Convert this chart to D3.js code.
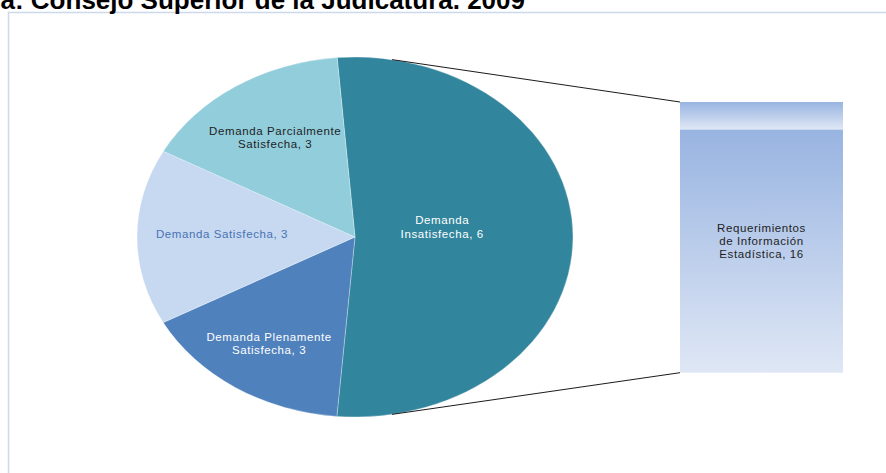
<!DOCTYPE html>
<html><head><meta charset="utf-8">
<script src="https://cdn.jsdelivr.net/npm/d3@7"></script>
<style>body{margin:0;background:#fff;overflow:hidden}</style>
</head><body><svg id="c" width="886" height="473"></svg>
<script>
// ---- data ----
const categories = ["Demanda Insatisfecha", "Demanda Plenamente Satisfecha", "Demanda Satisfecha", "Demanda Parcialmente Satisfecha"];
const labelValues = [6, 3, 3, 3];
const sliceShares = [10, 3, 3, 3];          // angular share of each slice as drawn
const barSegments = ["Requerimientos de Información Estadística", "Otros"];
const barValues = [16, 1.8];
const titleText = "Fuente: Sala Administrativa: Consejo Superior de la Judicatura. 2009";

// ---- styles ----
const sliceColors = ["#31859C", "#4F81BD", "#C6D9F1", "#92CDDC"];
const labelColors = ["#FFFFFF", "#FFFFFF", "#4A72B2", "#1E1E1E"];
const labelLines = {
  "Demanda Insatisfecha": ["Demanda", "Insatisfecha, " + labelValues[0]],
  "Demanda Plenamente Satisfecha": ["Demanda Plenamente", "Satisfecha, " + labelValues[1]],
  "Demanda Satisfecha": ["Demanda Satisfecha, " + labelValues[2]],
  "Demanda Parcialmente Satisfecha": ["Demanda Parcialmente", "Satisfecha, " + labelValues[3]]
};
const labelRadius = {
  "Demanda Insatisfecha": 0.40,
  "Demanda Plenamente Satisfecha": 0.72,
  "Demanda Satisfecha": 0.61,
  "Demanda Parcialmente Satisfecha": 0.67
};
const labelShift = {
  "Demanda Insatisfecha": -10,
  "Demanda Plenamente Satisfecha": -2,
  "Demanda Satisfecha": -3,
  "Demanda Parcialmente Satisfecha": 1.5
};

const svg = d3.select("#c");
const font = "'Liberation Sans', Arial, sans-serif";

// frame
svg.append("rect").attr("x", 8.5).attr("y", 12.5).attr("width", 900).attr("height", 500)
  .attr("fill", "none").attr("stroke", "#CCD8EC").attr("stroke-width", 1.5);

// title (cut at top, as in the original)
svg.append("text").attr("x", 525).attr("y", 9).attr("text-anchor", "end")
  .attr("font-family", font).attr("font-weight", "bold").attr("font-size", 26)
  .attr("fill", "#000").text(titleText);

// pie (ellipse)
const cx = 355, cy = 237, rx = 218, ry = 180;
const start = -4.7 * Math.PI / 180;
const pieData = d3.pie().sort(null).value(d => d.v).startAngle(start).endAngle(start + 2 * Math.PI)(sliceShares.map((v, i) => ({ v, i })));
const arc = d3.arc().innerRadius(0).outerRadius(rx);
const gPie = svg.append("g").attr("transform", `translate(${cx},${cy}) scale(1,${ry / rx})`);
gPie.selectAll("path").data(pieData).join("path")
  .attr("d", arc).attr("fill", d => sliceColors[d.data.i])
  .attr("stroke", "#ffffff").attr("stroke-opacity", 0.5).attr("stroke-width", 0.6)
  .attr("vector-effect", "non-scaling-stroke");

// bar (stacked)
const barX = d3.scaleBand().domain(["bar"]).range([680, 843]).padding(0);
const barY = d3.scaleLinear().domain([0, d3.sum(barValues)]).range([372.7, 102]);
const defs = svg.append("defs");
const gr = defs.append("linearGradient").attr("id", "gBar").attr("x1", 0).attr("y1", 0).attr("x2", 0).attr("y2", 1);
gr.append("stop").attr("offset", "0%").attr("stop-color", "#98B4E1");
gr.append("stop").attr("offset", "100%").attr("stop-color", "#DFE7F5");
let cum = 0;
const segs = barValues.map((v, i) => { const s = { i, y0: cum, y1: cum + v }; cum += v; return s; });
svg.append("g").selectAll("rect").data(segs).join("rect")
  .attr("x", barX("bar")).attr("width", barX.bandwidth())
  .attr("y", d => barY(d.y1)).attr("height", d => barY(d.y0) - barY(d.y1))
  .attr("fill", "url(#gBar)");

// connector lines from the big slice to the bar
const tCon = 9.8 * Math.PI / 180;
const top0 = [cx + rx * Math.sin(tCon), cy - ry * Math.cos(tCon)];
const bot0 = [cx + rx * Math.sin(Math.PI - tCon), cy - ry * Math.cos(Math.PI - tCon)];
svg.append("line").attr("x1", top0[0]).attr("y1", top0[1])
  .attr("x2", barX("bar")).attr("y2", barY(d3.sum(barValues)))
  .attr("stroke", "#000").attr("stroke-width", 0.9);
svg.append("line").attr("x1", bot0[0]).attr("y1", bot0[1])
  .attr("x2", barX("bar")).attr("y2", barY(0))
  .attr("stroke", "#000").attr("stroke-width", 0.9);

// slice labels
const lh = 13.5;
pieData.forEach(d => {
  const name = categories[d.data.i];
  const mid = (d.startAngle + d.endAngle) / 2;
  const f = labelRadius[name];
  const x = cx + f * rx * Math.sin(mid);
  const y = cy - f * ry * Math.cos(mid) + labelShift[name];
  const lines = labelLines[name];
  const t = svg.append("text").attr("text-anchor", "middle")
    .attr("font-family", font).attr("font-size", 11.5).attr("letter-spacing", 0.6)
    .attr("fill", labelColors[d.data.i]);
  lines.forEach((ln, k) => {
    t.append("tspan").attr("x", x)
      .attr("y", y + (k - (lines.length - 1) / 2) * lh + 4).text(ln);
  });
});

// bar label
const barLines = ["Requerimientos", "de Información", "Estadística, " + barValues[0]];
const bl = svg.append("text").attr("text-anchor", "middle")
  .attr("font-family", font).attr("font-size", 11.5).attr("letter-spacing", 0.6).attr("fill", "#1E1E1E");
const bx = barX("bar") + barX.bandwidth() / 2, by = (barY(0) + barY(barValues[0])) / 2 - 10;
barLines.forEach((ln, k) => {
  bl.append("tspan").attr("x", bx).attr("y", by + (k - 1) * 13 + 4).text(ln);
});
</script></body></html>
